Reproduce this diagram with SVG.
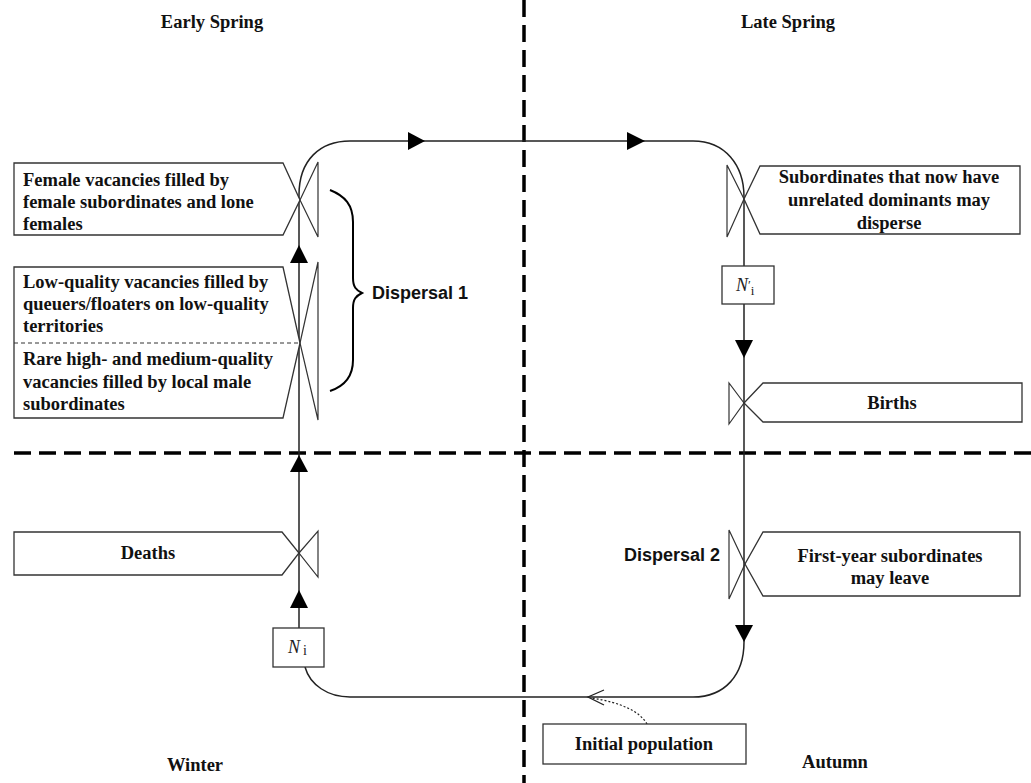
<svg xmlns="http://www.w3.org/2000/svg" width="1031" height="783" viewBox="0 0 1031 783">
<style>
.t{font-family:"Liberation Serif","Times New Roman",serif;font-weight:bold;font-size:18.5px;fill:#111}
.s{font-family:"Liberation Sans",Arial,sans-serif;font-weight:bold;font-size:18px;fill:#111}
.m{font-family:"Liberation Serif","Times New Roman",serif;font-size:18px;fill:#222}
.box{fill:#fff;stroke:#333;stroke-width:1.3}
.valve{fill:none;stroke:#333;stroke-width:1.2}
.flow{fill:none;stroke:#222;stroke-width:1.5}
.div{fill:none;stroke:#000;stroke-width:3.5;stroke-dasharray:17 8}
.ah{fill:#000}
</style>
<rect width="1031" height="783" fill="#fff"/>
<g id="dividers">
<line class="div" x1="14" y1="453" x2="1031" y2="453"/>
<line class="div" x1="524" y1="0" x2="524" y2="783"/>
</g>
<g id="seasons">
<text class="t" x="212" y="28" text-anchor="middle">Early Spring</text>
<text class="t" x="788" y="28" text-anchor="middle">Late Spring</text>
<text class="t" x="195" y="771" text-anchor="middle">Winter</text>
<text class="t" x="835" y="768" text-anchor="middle">Autumn</text>
</g>
<g id="connectors">
<path class="flow" d="M299,628 L299,195 C299,160 320,141 350,141 L693,141 C725,141 744,165 744,197 L744,642 C744,675 725,697 693,697 L350,697 C328,697 310,685 305,667"/>
<polygon class="ah" points="299,245 290,263 308,263"/>
<polygon class="ah" points="299,455 290,472 308,472"/>
<polygon class="ah" points="299,590 290,608 308,608"/>
<polygon class="ah" points="425,141 408,132 408,150"/>
<polygon class="ah" points="645,141 627,132 627,150"/>
<polygon class="ah" points="744,358 735,340 753,340"/>
<polygon class="ah" points="744,642 735,625 753,625"/>
<path fill="none" stroke="#222" stroke-width="1.3" d="M604,690 L588,697 L604,705"/>
<path fill="none" stroke="#222" stroke-width="1.2" stroke-dasharray="2 2" d="M647,724 Q636,705 592,698"/>
</g>
<g id="female">
<polygon class="box" points="14,163 283,163 300,200 283,235 14,235"/>
<polygon class="valve" points="300,200 318,162 318,237"/>
<text class="t" x="23" y="186">Female vacancies filled by</text>
<text class="t" x="23" y="208">female subordinates and lone</text>
<text class="t" x="23" y="230">females</text>
</g>
<g id="lowquality">
<polygon class="box" points="14,267 283,267 300,343 283,418 14,418"/>
<polygon class="valve" points="300,343 318,262 318,420"/>
<line x1="14" y1="343" x2="300" y2="343" stroke="#333" stroke-width="1" stroke-dasharray="4 3"/>
<text class="t" x="23" y="288">Low-quality vacancies filled by</text>
<text class="t" x="23" y="310">queuers/floaters on low-quality</text>
<text class="t" x="23" y="332">territories</text>
<text class="t" x="23" y="365">Rare high- and medium-quality</text>
<text class="t" x="23" y="388">vacancies filled by local male</text>
<text class="t" x="23" y="410">subordinates</text>
</g>
<g id="dispersal1">
<path fill="none" stroke="#000" stroke-width="2" d="M330,190 C345,196 353,205 353,222 L353,278 C353,287 356,290 362,293 C356,296 353,299 353,308 L353,360 C353,376 345,386 330,391"/>
<text class="s" x="372" y="299">Dispersal 1</text>
</g>
<g id="deaths">
<polygon class="box" points="14,532 282,532 299,553 282,575 14,575"/>
<polygon class="valve" points="299,553 318,531 318,577"/>
<text class="t" x="148" y="559" text-anchor="middle">Deaths</text>
</g>
<g id="Ni">
<rect class="box" x="273" y="628" width="51" height="39"/>
<text class="m" x="288" y="653"><tspan font-style="italic">N</tspan><tspan dx="3" dy="2" font-size="14">i</tspan></text>
</g>
<g id="subordinates">
<polygon class="box" points="1020,166 760,166 744,199 760,234 1020,234"/>
<polygon class="valve" points="744,199 727,165 727,237"/>
<text class="t" x="889" y="183" text-anchor="middle">Subordinates that now have</text>
<text class="t" x="889" y="206" text-anchor="middle">unrelated dominants may</text>
<text class="t" x="889" y="229" text-anchor="middle">disperse</text>
</g>
<g id="Niprime">
<rect class="box" x="722" y="266" width="52" height="38"/>
<text class="m" x="736" y="291"><tspan font-style="italic">N</tspan><tspan font-size="13" dy="-2">′</tspan><tspan font-size="13" dy="6">i</tspan></text>
</g>
<g id="births">
<polygon class="box" points="1022,383 763,383 744,403 763,422 1022,422"/>
<polygon class="valve" points="744,403 729,383 729,424"/>
<text class="t" x="892" y="409" text-anchor="middle">Births</text>
</g>
<g id="firstyear">
<polygon class="box" points="1020,532 763,532 745,564 763,596 1020,596"/>
<polygon class="valve" points="745,564 729,530 729,599"/>
<text class="t" x="890" y="562" text-anchor="middle">First-year subordinates</text>
<text class="t" x="890" y="584" text-anchor="middle">may leave</text>
<text class="s" x="720" y="561" text-anchor="end">Dispersal 2</text>
</g>
<g id="initial">
<rect class="box" x="543" y="724" width="203" height="40"/>
<text class="t" x="644" y="750" text-anchor="middle">Initial population</text>
</g>
</svg>
